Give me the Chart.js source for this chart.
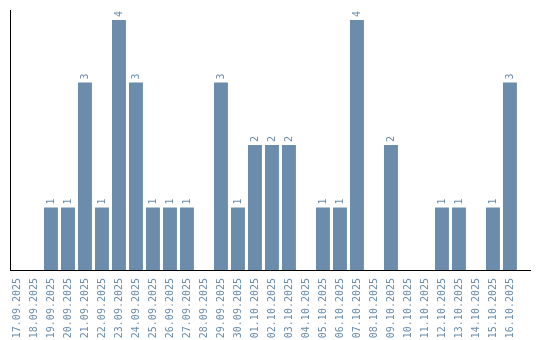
<!DOCTYPE html>
<html>
<head>
<meta charset="utf-8">
<script src="https://cdn.jsdelivr.net/npm/chart.js@4"></script>
<style>
    html, body { margin: 0; padding: 0; background: #fff; }
    #wrap { width: 540px; height: 340px; }
</style>
</head>
<body>
<div id="wrap"><canvas id="graphic" width="540" height="340"></canvas></div>
<script>
// datos
const dias = [
    "17.09.2025", "18.09.2025", "19.09.2025", "20.09.2025", "21.09.2025",
    "22.09.2025", "23.09.2025", "24.09.2025", "25.09.2025", "26.09.2025",
    "27.09.2025", "28.09.2025", "29.09.2025", "30.09.2025", "01.10.2025",
    "02.10.2025", "03.10.2025", "04.10.2025", "05.10.2025", "06.10.2025",
    "07.10.2025", "08.10.2025", "09.10.2025", "10.10.2025", "11.10.2025",
    "12.10.2025", "13.10.2025", "14.10.2025", "15.10.2025", "16.10.2025"
];
const cantidades = [0, 0, 1, 1, 3, 1, 4, 3, 1, 1, 1, 0, 3, 1, 2, 2, 2, 0, 1, 1, 4, 0, 2, 0, 0, 1, 1, 0, 1, 3];
const yMax = 4.16;
const xMin = -0.41;
const xMax = 30.18;

const azul = "#6b8cab";
const fuente = "DejaVu Sans Mono";

// etiquetas encima de las barras (giradas)
const etiquetas = {
    id: "etiquetas",
    afterDatasetsDraw(chart) {
        const ctx = chart.ctx;
        const meta = chart.getDatasetMeta(0);
        ctx.save();
        ctx.fillStyle = azul;
        ctx.font = "10px '" + fuente + "'";
        ctx.textAlign = "left";
        ctx.textBaseline = "middle";
        meta.data.forEach((bar, i) => {
            const v = cantidades[i];
            if (!v) return;
            ctx.save();
            ctx.translate(bar.x, bar.y - 3);
            ctx.rotate(-Math.PI / 2);
            ctx.fillText(String(v), 0, 0);
            ctx.restore();
        });
        ctx.restore();
    }
};

new Chart(document.getElementById("graphic"), {
    type: "bar",
    data: {
        datasets: [{
            data: cantidades.map((v, i) => ({ x: i, y: v })),
            backgroundColor: azul,
            borderWidth: 0,
            barPercentage: 0.82,
            categoryPercentage: 1
        }]
    },
    options: {
        responsive: false,
        animation: false,
        layout: { padding: { top: 10, right: 10, left: 0, bottom: 0 } },
        plugins: {
            legend: { display: false },
            tooltip: { enabled: false }
        },
        scales: {
            x: {
                type: "linear",
                min: xMin,
                max: xMax,
                offset: false,
                grid: { display: false },
                border: { color: "#000", width: 1 },
                afterBuildTicks(scale) {
                    scale.ticks = dias.map((d, i) => ({ value: i }));
                },
                ticks: {
                    autoSkip: false,
                    minRotation: 90,
                    maxRotation: 90,
                    padding: 0,
                    color: azul,
                    font: { family: fuente, size: 10 },
                    callback: (v) => dias[v]
                },
                afterFit(scale) { scale.height = 70; }
            },
            y: {
                min: 0,
                max: yMax,
                grid: { display: false },
                border: { color: "#000", width: 1 },
                ticks: { display: false },
                afterFit(scale) { scale.width = 10; }
            }
        }
    },
    plugins: [etiquetas]
});
</script>
</body>
</html>
